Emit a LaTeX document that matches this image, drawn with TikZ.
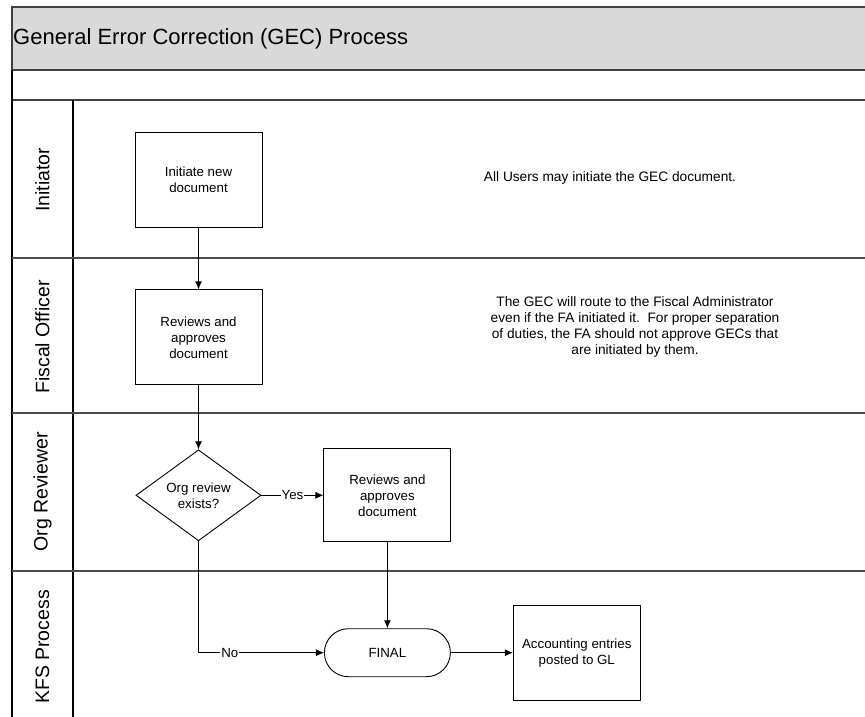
\documentclass[tikz,border=0pt]{standalone}
\usepackage{fontspec}
\setmainfont{Liberation Sans}
\usetikzlibrary{positioning,shapes.geometric,arrows.meta}
\tikzset{%
  font=\fontsize{13.3}{16}\selectfont,>={Latex[length=8pt,width=7pt]},
  block/.style    = {draw,rectangle,line width=0.9pt,minimum width=127pt,minimum height=95pt,align=center,inner sep=2pt},
  decision/.style = {draw,diamond,line width=0.9pt,minimum width=125pt,minimum height=91pt,align=center,inner sep=0pt},
  term/.style     = {draw,rectangle,rounded corners=24pt,line width=0.9pt,minimum width=126pt,minimum height=48pt},
  line/.style     = {draw,line width=0.8pt,->},
  lane/.style     = {rotate=90,font=\fontsize{19.5}{22}\selectfont},
  note/.style     = {align=center,font=\fontsize{13.7}{15.7}\selectfont},
  e/.style        = {fill=white,inner sep=1pt}
}

\begin{document}
\begin{tikzpicture}[x=1pt,y=-1pt]
	\useasboundingbox (0,0) rectangle (865,717);
	% swimlane frame
	\filldraw[fill=black!15,draw=black!75,line width=1.6pt] (12,7) rectangle (867,70);
	\draw[black!75,line width=1.6pt] (12,100) -- (867,100);
	\draw[line width=1.2pt] (12,70) -- (12,718);
	\draw[line width=1.2pt] (73,100) -- (73,718);
	\foreach \y in {258,413,571}
		\draw[black!70,line width=1.2pt] (12,\y) -- (867,\y);
	\node[anchor=west,inner sep=0pt,font=\fontsize{22}{25}\selectfont] (title) at (13,38.5) {General Error Correction (GEC) Process};
	\node[lane] (initiator) at (42.5,180) {Initiator};
	\node[lane] (fiscal) at (42.5,337) {Fiscal Officer};
	\node[lane] (orgrev) at (42.5,492) {Org Reviewer};
	\node[lane] (kfs) at (42.5,647) {KFS Process};
	% steps
	\node[block] (init) at (198.5,179.5) {Initiate new\\document};
	\node[block,below=62pt of init] (fo) {Reviews and\\approves\\document};
	\node[decision,below=64pt of fo] (dec) {Org review\\exists?};
	\node[block,right=62pt of dec,minimum height=93pt] (org) {Reviews and\\approves\\document};
	\node[term,below=86pt of org] (final) {FINAL};
	\node[block,right=62pt of final] (acct) {Accounting entries\\posted to GL};
	\node[note] (note1) at (610,178) {All Users may initiate the GEC document.};
	\node[note] (note2) at (635,327) {The GEC will route to the Fiscal Administrator\\even if the FA initiated it.\ \ For proper separation\\of duties, the FA should not approve GECs that\\are initiated by them.};
	% flow
	\path[line] (init) -- (fo);
	\path[line] (fo) -- (dec);
	\path[line] (dec) -- node[e] {Yes} (org);
	\path[line] (dec.south) |- node[e,pos=0.625] {No} (final.west);
	\path[line] (org) -- (final);
	\path[line] (final) -- (acct);
\end{tikzpicture}
\end{document}
